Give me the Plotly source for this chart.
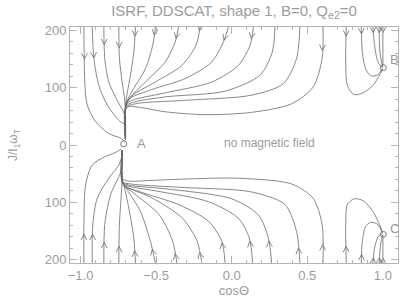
import math
import plotly.graph_objects as go

# ---- data (cos(theta), J/I1 w_T) ----
# trajectories flowing from the top edge down toward attractor A
upper_x = [
    [-0.978, -0.971, -0.956, -0.901, -0.813, -0.736, -0.708],
    [-0.923, -0.912, -0.879, -0.824, -0.747, -0.708, -0.703],
    [-0.846, -0.840, -0.813, -0.758, -0.712, -0.703, -0.703],
    [-0.747, -0.743, -0.725, -0.708, -0.703, -0.703],
    [-0.637, -0.648, -0.670, -0.692, -0.703, -0.703],
    [-0.505, -0.523, -0.571, -0.648, -0.697, -0.703, -0.703],
    [-0.352, -0.374, -0.440, -0.571, -0.677, -0.701, -0.703],
    [-0.209, -0.237, -0.330, -0.505, -0.659, -0.699, -0.703],
    [-0.022, -0.055, -0.132, -0.308, -0.527, -0.670, -0.699, -0.703],
    [0.143, 0.121, 0.044, -0.132, -0.440, -0.659, -0.699, -0.703],
    [0.286, 0.268, 0.187, -0.044, -0.440, -0.659, -0.701, -0.703],
    [0.451, 0.429, 0.341, 0.132, -0.308, -0.637, -0.701, -0.703],
    [0.604, 0.598, 0.538, 0.396, 0.132, -0.176, -0.440, -0.593, -0.681, -0.703, -0.703],
]
upper_y = [
    [206, 104, 70, 41, 20, 12, 6],
    [206, 151, 104, 70, 43, 35, 9],
    [206, 151, 110, 78, 55, 41, 9],
    [206, 151, 110, 78, 58, 9],
    [206, 162, 122, 90, 70, 9],
    [206, 174, 133, 99, 74, 58, 9],
    [206, 180, 145, 110, 81, 67, 9],
    [206, 174, 139, 110, 86, 70, 9],
    [206, 180, 145, 116, 97, 82, 71, 9],
    [206, 174, 139, 110, 91, 78, 70, 9],
    [206, 162, 122, 94, 84, 74, 67, 9],
    [206, 151, 107, 87, 78, 72, 65, 9],
    [206, 151, 101, 72, 57, 53, 58, 65, 67, 61, 9],
]
upper_arrow_y = [150, 152, 175, 170, 190, 192, 186, 200, 183, 186, None, None, 165]

# trajectories flowing from the bottom edge up toward attractor A
lower_x = [
    [-0.978, -0.978, -0.967, -0.923, -0.835, -0.769, -0.730],
    [-0.923, -0.919, -0.890, -0.813, -0.747, -0.730, -0.725],
    [-0.846, -0.840, -0.802, -0.747, -0.727, -0.725],
    [-0.747, -0.743, -0.730, -0.725, -0.725],
    [-0.637, -0.648, -0.681, -0.712, -0.725, -0.725],
    [-0.505, -0.538, -0.604, -0.692, -0.723, -0.725],
    [-0.363, -0.391, -0.479, -0.648, -0.719, -0.725],
    [-0.198, -0.229, -0.325, -0.523, -0.681, -0.721, -0.725],
    [-0.044, -0.066, -0.154, -0.352, -0.615, -0.714, -0.725],
    [0.138, 0.116, 0.044, -0.154, -0.484, -0.681, -0.723, -0.725],
    [0.264, 0.242, 0.176, 0.000, -0.418, -0.681, -0.723, -0.725],
    [0.451, 0.429, 0.352, 0.132, -0.330, -0.670, -0.723, -0.725],
    [0.604, 0.598, 0.538, 0.396, 0.044, -0.264, -0.549, -0.681, -0.721, -0.725],
]
lower_y = [
    [-206, -139, -70, -35, -20, -13, -7],
    [-206, -139, -93, -58, -35, -23, -9],
    [-206, -139, -87, -55, -41, -9],
    [-206, -139, -84, -64, -9],
    [-206, -162, -110, -72, -58, -9],
    [-206, -168, -116, -78, -64, -9],
    [-206, -168, -122, -84, -68, -9],
    [-206, -168, -128, -93, -75, -68, -9],
    [-206, -168, -133, -104, -81, -70, -9],
    [-206, -162, -128, -99, -81, -72, -67, -9],
    [-206, -162, -122, -94, -77, -70, -65, -9],
    [-206, -151, -104, -82, -74, -68, -64, -9],
    [-206, -139, -93, -68, -58, -59, -62, -63, -59, -9],
]
lower_arrow_y = [-156, -156, -170, -177, -185, -182, -190, -188, -171, -168, -168, -180, -174]

# trajectories ending at attractor B (upper right)
b_x = [
    [0.758, 0.754, 0.765, 0.809, 0.868, 0.934, 0.978, 1.0],
    [0.857, 0.864, 0.886, 0.919, 0.963, 0.995],
    [0.934, 0.945, 0.967, 0.997],
    [0.975, 0.981, 0.999],
    [1.0, 1.0],
]
b_y = [
    [206, 151, 104, 88, 91, 104, 122, 133],
    [206, 162, 133, 121, 122, 132],
    [206, 174, 145, 134],
    [206, 160, 136],
    [206, 138],
]
b_arrow_y = [190, 194, 196, 196, 196]

# trajectories ending at attractor C (lower right)
c_x = [
    [0.758, 0.754, 0.765, 0.809, 0.868, 0.934, 0.978, 1.0],
    [0.857, 0.864, 0.886, 0.919, 0.963, 0.995],
    [0.934, 0.945, 0.971, 0.997],
    [0.975, 0.985, 0.999],
    [1.0, 1.0],
]
c_y = [
    [-206, -139, -104, -94, -97, -116, -139, -154],
    [-206, -168, -142, -135, -138, -152],
    [-206, -180, -159, -155],
    [-206, -174, -157],
    [-206, -157],
]
c_arrow_y = [-177, -191, -197, -197, -197]

attractor_x = [-0.715, 1.003, 1.003]
attractor_y = [2, 135, -156]
attractor_names = ["A", "B", "C"]
label_x = [-0.6, 1.08, 1.08]
label_y = [2, 150, -146]

x_tickvals = [-1.0, -0.5, 0.0, 0.5, 1.0]
x_ticktext = ["\u22121.0", "\u22120.5", "0.0", "0.5", "1.0"]
y_tickvals = [-200, -100, 0, 100, 200]
y_ticktext = ["200", "100", "0", "100", "200"]

# ---- layout geometry ----
W, H = 407, 303
ML, MR, MT, MB = 70, 9, 27, 40
XR = [-1.07, 1.10]
YR = [-206, 206]
px_x = (W - ML - MR) / (XR[1] - XR[0])
px_y = (H - MT - MB) / (YR[1] - YR[0])

LINE = "rgb(105,105,105)"
GREY = "#9c9c9c"
AX = "#b4b4b4"
FONT = "Liberation Sans, Arial, sans-serif"

fig = go.Figure()


def add_curve(xs, ys):
    fig.add_trace(go.Scatter(x=xs, y=ys, mode="lines",
                             line=dict(color=LINE, width=0.8, shape="spline", smoothing=0.8),
                             hoverinfo="skip", showlegend=False))


def point_at_y(xs, ys, yv):
    for i in range(len(xs) - 1):
        y0, y1 = ys[i], ys[i + 1]
        if (y0 - yv) * (y1 - yv) <= 0 and y0 != y1:
            t = (yv - y0) / (y1 - y0)
            return xs[i] + t * (xs[i + 1] - xs[i]), yv, xs[i + 1] - xs[i], y1 - y0
    return None


def add_arrow(xs, ys, yv):
    if yv is None:
        return
    r = point_at_y(xs, ys, yv)
    if r is None:
        return
    px, py, dx, dy = r
    ux, uy = dx * px_x, dy * px_y
    n = math.hypot(ux, uy)
    ux, uy = ux / n, uy / n
    L, ang = 6.5, math.radians(27)
    ax, ay = [], []
    for s in (1, -1):
        c, sn = math.cos(s * ang), math.sin(s * ang)
        bx = -(ux * c - uy * sn)
        by = -(ux * sn + uy * c)
        ax += [px + bx * L / px_x, px, None]
        ay += [py + by * L / px_y, py, None]
    fig.add_trace(go.Scatter(x=ax, y=ay, mode="lines",
                             line=dict(color=LINE, width=0.8),
                             hoverinfo="skip", showlegend=False))


for group in ((upper_x, upper_y, upper_arrow_y), (lower_x, lower_y, lower_arrow_y),
              (b_x, b_y, b_arrow_y), (c_x, c_y, c_arrow_y)):
    for xs, ys, ay in zip(*group):
        add_curve(xs, ys)
        add_arrow(xs, ys, ay)

fig.add_trace(go.Scatter(x=attractor_x, y=attractor_y, mode="markers",
                         marker=dict(symbol="circle-open", size=6, color="rgb(120,120,120)",
                                     line=dict(width=1)),
                         hoverinfo="skip", showlegend=False))

for nm, lx, ly in zip(attractor_names, label_x, label_y):
    fig.add_annotation(x=lx, y=ly, text=nm, showarrow=False,
                       font=dict(family=FONT, size=13, color=GREY))

fig.add_annotation(x=0.25, y=3, text="no magnetic field", showarrow=False,
                   font=dict(family=FONT, size=12, color=GREY))

fig.add_annotation(xref="paper", yref="paper", x=0, y=0.5, xanchor="right",
                   xshift=-46, textangle=-90, showarrow=False,
                   text="J/I<sub>1</sub>\u03c9<sub>T</sub>",
                   font=dict(family=FONT, size=12, color=GREY))

axis_common = dict(showgrid=False, zeroline=False, showline=True, linecolor=AX,
                   linewidth=1, mirror="allticks", ticks="inside", tickcolor=AX,
                   ticklen=7, tickwidth=1, automargin=False,
                   tickfont=dict(family=FONT, size=13, color=GREY))

fig.update_layout(
    width=W, height=H,
    margin=dict(l=ML, r=MR, t=MT, b=MB),
    paper_bgcolor="white", plot_bgcolor="white",
    title=dict(text="ISRF, DDSCAT, shape 1, B=0, Q<sub>e2</sub>=0",
               x=(ML + (W - ML - MR) / 2) / W, xanchor="center",
               y=1 - 11 / H, yanchor="middle",
               font=dict(family=FONT, size=15, color=GREY)),
    xaxis=dict(range=XR, tickvals=x_tickvals, ticktext=x_ticktext,
               title=dict(text="cos\u0398", font=dict(family=FONT, size=13, color=GREY), standoff=2),
               minor=dict(dtick=0.1, tick0=0, ticks="inside", ticklen=3, tickcolor=AX),
               **axis_common),
    yaxis=dict(range=YR, tickvals=y_tickvals, ticktext=y_ticktext,
               minor=dict(dtick=20, tick0=0, ticks="inside", ticklen=3, tickcolor=AX),
               **axis_common),
)

# the page's default body margin would shift the figure by 8 px; remove it
fig.write_html("out.html",
               config={"displayModeBar": False, "staticPlot": True},
               post_script="document.body.style.margin='0';document.body.style.overflow='hidden';")
